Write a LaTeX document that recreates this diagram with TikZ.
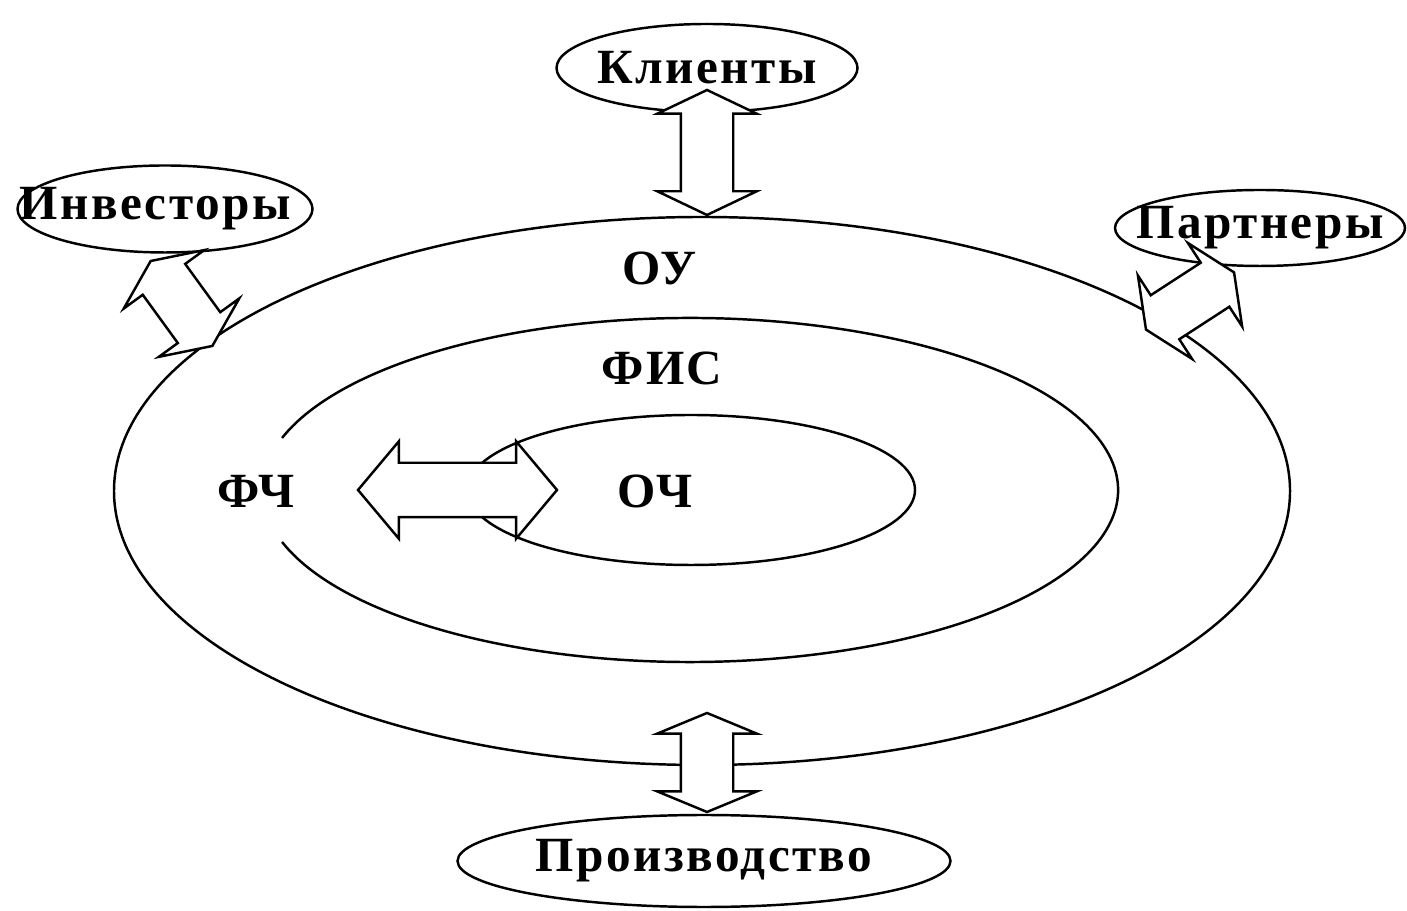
\documentclass[tikz,border=0pt]{standalone}
\usepackage{fontspec}
\setmainfont[LetterSpace=5]{Liberation Serif}
\usetikzlibrary{shapes.geometric,shapes.arrows,positioning}

\begin{document}
\begin{tikzpicture}
	[ring/.style={ellipse, draw, line width=0.7pt, inner sep=0pt},
	party/.style={ellipse, draw, fill=white, line width=0.7pt, inner sep=0pt},
	lbl/.style={font=\fontsize{14}{16}\selectfont\bfseries},
	link/.style={double arrow, draw, fill=white, line width=0.7pt, inner xsep=0pt,
		inner ysep=0.25cm, double arrow head extend=0.235cm},
	]
	\useasboundingbox (0,0) rectangle (14.07,9.10);
	\node[ring, minimum width=11.76cm, minimum height=5.48cm] (ou) at (7.02,4.19) {};
	\coordinate (fis) at (6.90,4.20);
	\draw[line width=0.7pt] ([shift={(197.6:4.28cm and 1.72cm)}]fis)
		arc[start angle=197.6, end angle=522.4, x radius=4.28cm, y radius=1.72cm];
	\node[ring, minimum width=4.48cm, minimum height=1.50cm] (och) at (6.91,4.20) {};
	
	\node[lbl] (ou-t) at (6.60,6.42) {ОУ};
	\node[lbl] (fis-t) at (6.62,5.42) {ФИС};
	\node[lbl] (fch-t) at (2.56,4.19) {ФЧ};
	\node[lbl] (och-t) at (6.55,4.19) {ОЧ};
	
	\node[party, minimum width=3.01cm, minimum height=0.88cm,
		label={[lbl]center:Клиенты}] (kl) at (7.07,8.42) {};
	\node[party, minimum width=2.95cm, minimum height=0.87cm,
		label={[lbl, xshift=-0.1cm]center:Инвесторы}] (inv) at (1.65,7.01) {};
	\node[party, minimum width=2.90cm, minimum height=0.76cm,
		label={[lbl]center:Партнеры}] (par) at (12.60,6.82) {};
	\node[party, minimum width=4.93cm, minimum height=0.92cm,
		label={[lbl]center:Производство}] (pr) at (7.04,0.49) {};
	
	\node[link, rotate=90, minimum height=1.25cm, double arrow tip angle=129] (kl-a) at (7.07,7.575) {};
	\node[link, rotate=90, minimum height=0.99cm, double arrow tip angle=135] (pr-a) at (7.07,1.475) {};
	\node[link, rotate=-54, minimum height=1.05cm, double arrow tip angle=131] (inv-a) at (1.815,6.065) {};
	\node[link, rotate=33, minimum height=1.05cm, double arrow tip angle=131] (par-a) at (11.90,6.09) {};
	\node[link, minimum height=1.99cm, inner ysep=0.26cm, double arrow head extend=0.215cm,
		double arrow tip angle=100] (fch-a) at (4.575,4.20) {};
\end{tikzpicture}
\end{document}
